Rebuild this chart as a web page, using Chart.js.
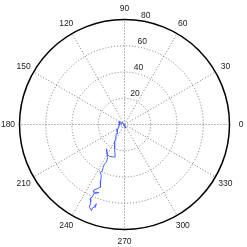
<!DOCTYPE html>
<html>
<head>
<meta charset="utf-8">
<script src="https://cdn.jsdelivr.net/npm/chart.js@4"></script>
<style>
  html, body { margin: 0; padding: 0; background: #fff; }
  #polar { display: block; }
</style>
</head>
<body>
<canvas id="polar" width="247" height="247"></canvas>
<script>
// trace: angle in degrees, radius in data units
var thetaDeg = [0, 289, 235, 131, 180, 145, 191, 213, 226, 234, 228, 241, 239, 248, 254, 245, 240, 233.5,
                243, 244.5, 243, 243.5, 244.5, 243, 245.5, 247, 249, 247, 245, 245, 249.5, 246, 246, 245,
                246.5, 247, 249, 249, 250, 250, 250.5, 250.5];
var radius   = [0, 3.0, 0.9, 2.3, 2.5, 4.4, 4.1, 6.1, 8.1, 8.2, 9.5, 13.9, 14.8, 20.0, 25.9, 26.8, 26.4, 23.0,
                28.4, 31.8, 33.6, 36.4, 39.4, 40.7, 42.7, 46.4, 51.2, 53.2, 55.0, 56.8, 55.3, 57.8, 60.6, 62.1,
                64.6, 68.3, 70.3, 68.1, 67.0, 64.9, 64.1, 67.3];

var angleTicks  = [0, 30, 60, 90, 120, 150, 180, 210, 240, 270, 300, 330];
var radialTicks = [20, 40, 60, 80];
var rMax = 80;

var points = [];
for (i = 0; i < thetaDeg.length; i++) {
    var t = thetaDeg[i] * Math.PI / 180;
    points.push({ x: radius[i] * Math.cos(t), y: radius[i] * Math.sin(t) });
}

// polar grid drawn behind the trace, through the chart scales
var polarGrid = {
    id: 'polarGrid',
    beforeDatasetsDraw: function(chart) {
        var ctx = chart.ctx;
        var sx = chart.scales.x, sy = chart.scales.y;
        var cx = sx.getPixelForValue(0), cy = sy.getPixelForValue(0);
        var px = function(v) { return sx.getPixelForValue(v) - cx; };
        var R = px(rMax);
        ctx.save();
        ctx.lineWidth = 1;
        ctx.strokeStyle = '#777';
        ctx.setLineDash([1, 2]);
        // spokes
        for (var k = 0; k < angleTicks.length; k++) {
            var a = angleTicks[k] * Math.PI / 180;
            ctx.beginPath();
            ctx.moveTo(cx, cy);
            ctx.lineTo(cx + R * Math.cos(a), cy - R * Math.sin(a));
            ctx.stroke();
        }
        // rings
        for (var j = 0; j < radialTicks.length - 1; j++) {
            ctx.beginPath();
            ctx.arc(cx, cy, px(radialTicks[j]), 0, 2 * Math.PI);
            ctx.stroke();
        }
        // outer circle
        ctx.setLineDash([]);
        ctx.strokeStyle = '#000';
        ctx.lineWidth = 1.5;
        ctx.beginPath();
        ctx.arc(cx, cy, R, 0, 2 * Math.PI);
        ctx.stroke();

        // labels
        ctx.fillStyle = '#222';
        ctx.font = '8.5px "Liberation Sans", Arial, sans-serif';
        ctx.textAlign = 'center';
        ctx.textBaseline = 'middle';
        for (var k = 0; k < angleTicks.length; k++) {
            var a = angleTicks[k] * Math.PI / 180;
            ctx.fillText(String(angleTicks[k]), cx + (R + 11.5) * Math.cos(a), cy - (R + 11.5) * Math.sin(a) + 0.5);
        }
        ctx.textAlign = 'left';
        ctx.textBaseline = 'alphabetic';
        var ra = 82 * Math.PI / 180;
        for (var j = 0; j < radialTicks.length; j++) {
            var rr = px(radialTicks[j]);
            ctx.fillText(String(radialTicks[j]), cx + rr * Math.cos(ra) + 2, cy - rr * Math.sin(ra) - 3);
        }
        ctx.restore();
    }
};

new Chart(document.getElementById('polar'), {
    type: 'scatter',
    data: {
        datasets: [{
            data: points,
            showLine: true,
            borderColor: '#4a62ff',
            borderWidth: 1,
            pointRadius: 0,
            fill: false,
            tension: 0
        }]
    },
    options: {
        responsive: false,
        animation: false,
        layout: { padding: { left: 19.5, right: 17.5, top: 19.5, bottom: 17.5 } },
        plugins: { legend: { display: false }, tooltip: { enabled: false } },
        scales: {
            x: { type: 'linear', min: -rMax, max: rMax, display: false },
            y: { type: 'linear', min: -rMax, max: rMax, display: false }
        }
    },
    plugins: [polarGrid]
});
</script>
</body>
</html>
